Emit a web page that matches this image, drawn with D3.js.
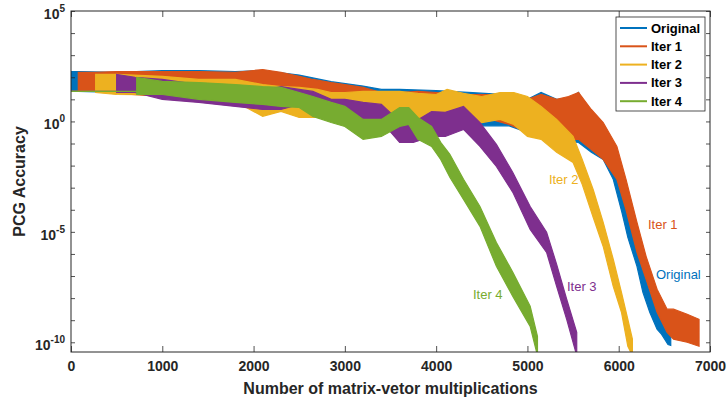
<!DOCTYPE html>
<html>
<head>
<meta charset="utf-8">
<script src="https://d3js.org/d3.v7.min.js"></script>
<style>
  body { margin: 0; background: #fff; }
  svg { font-family: "Liberation Sans", Arial, sans-serif; }
</style>
</head>
<body>
<script>
// each row: [matrix-vector multiplications, log10 of top of noise band, log10 of bottom of noise band]
var seriesNames = ["Original", "Iter 1", "Iter 2", "Iter 3", "Iter 4"];
var colors = ["#0072BD", "#D95319", "#EDB120", "#7E2F8E", "#77AC30"];

var original = [[0,2.26,1.36],[80,2.26,1.36],[500,2.22,1.31],[1000,2.3,1.13],[1400,2.3,1.1],[1800,2.26,1.2],
  [2100,2.3,1.2],[2500,2.1,1.1],[2850,1.8,0.95],[3200,1.6,0.75],[3400,1.45,0.5],[3600,1.45,0.3],[4000,1.4,0.1],
  [4400,1.3,-0.2],[4800,1.2,-0.2],[5000,1.0,-0.5],[5150,1.31,-0.5],[5320,1.0,-0.81],[5450,1.0,-0.9],[5560,1.31,-0.95],
  [5700,-0.05,-1.4],[5830,-0.36,-1.72],[5940,-1.4,-2.62],[6035,-2.76,-4.12],[6100,-3.98,-5.25],[6200,-5.48,-6.56],
  [6265,-6.56,-7.74],[6340,-7.74,-8.64],[6420,-8.37,-9.41],[6470,-8.28,-9.64],[6540,-9.41,-10.1],[6570,-9.64,-10.14]];

var iter1 = [[0,1.36,1.36],[80,1.36,1.36],[80,2.22,1.36],[260,2.22,1.36],[500,2.26,1.27],[1000,2.26,1.13],
  [1400,2.26,1.13],[1800,2.22,1.22],[2100,2.35,1.22],[2300,2.22,1.13],[2500,2.04,1.13],[2650,1.9,1.0],[2850,1.76,1.0],
  [3000,1.67,1.0],[3200,1.54,0.77],[3400,1.31,0.54],[3600,1.31,0.32],[3800,1.36,0.45],[4000,1.31,0.18],[4200,1.22,0.18],
  [4400,1.22,-0.14],[4600,1.22,0.09],[4800,1.13,-0.14],[5000,1.0,-0.5],[5150,1.22,-0.45],[5320,1.0,-0.81],
  [5450,1.13,-0.81],[5560,1.31,-0.81],[5700,0.54,-1.27],[5830,-0.05,-1.72],[5980,-1.13,-2.62],[6080,-2.62,-4.0],
  [6200,-4.57,-5.93],[6300,-6.11,-7.15],[6420,-7.6,-8.64],[6530,-8.5,-9.55],[6600,-8.5,-9.86],[6750,-8.73,-10.0],
  [6880,-8.96,-10.18]];

var iter2 = [[0,1.36,1.36],[270,1.36,1.36],[270,2.13,1.31],[500,2.13,1.22],[1000,2.04,1.2],[1400,1.9,0.9],
  [1800,1.9,0.9],[2100,1.67,0.23],[2300,1.58,0.45],[2500,1.54,0.18],[2700,1.45,0.18],[2850,1.31,0.45],[3000,1.31,0.32],
  [3200,1.36,0.09],[3400,1.36,0.18],[3600,1.36,0.09],[3800,1.27,0.09],[4000,1.22,0.09],[4120,1.45,0.18],[4300,1.27,0.09],
  [4500,1.13,-0.05],[4700,1.31,0.09],[4850,1.31,-0.14],[5000,1.13,-0.68],[5150,0.68,-0.81],[5320,0.09,-1.4],
  [5500,-0.68,-1.86],[5600,-1.72,-2.85],[5720,-3.08,-4.34],[5830,-4.57,-5.66],[5940,-6.24,-7.47],[6030,-7.74,-8.64],
  [6100,-8.96,-10.18],[6150,-9.86,-10.6]];

var iter3 = [[0,1.36,1.36],[500,1.36,1.36],[500,2.13,1.31],[700,2.0,1.31],[1000,1.9,1.0],[1400,1.67,0.86],
  [1800,1.54,0.68],[2100,1.4,0.54],[2300,1.58,0.54],[2500,1.45,0.77],[2650,1.36,0.68],[2850,1.0,0.41],[3000,1.0,0.32],
  [3200,0.86,-0.05],[3400,0.77,0.0],[3600,0.0,-0.95],[3750,-0.05,-0.95],[3950,0.45,-0.68],[4100,0.41,-0.68],
  [4300,0.68,-0.36],[4480,-0.05,-1.13],[4660,-1.04,-2.04],[4840,-2.31,-3.21],[5030,-3.85,-4.89],[5210,-5.02,-5.93],
  [5320,-6.47,-7.47],[5430,-8.05,-8.96],[5540,-9.55,-10.6]];

var iter4 = [[0,1.36,1.36],[720,1.36,1.36],[720,1.99,1.22],[1000,1.81,1.22],[1400,1.76,1.0],[1800,1.67,0.86],
  [2100,1.58,0.77],[2300,1.54,0.68],[2500,1.31,0.63],[2650,1.13,0.23],[2850,0.86,-0.05],[3000,0.68,-0.23],
  [3200,0.09,-0.81],[3400,0.09,-0.68],[3600,0.63,-0.23],[3700,0.63,-0.14],[3800,0.18,-0.81],[3950,-0.23,-1.13],
  [4050,-0.95,-1.72],[4150,-1.49,-2.53],[4300,-2.62,-3.53],[4480,-3.85,-4.75],[4660,-5.48,-6.56],[4840,-6.83,-7.92],
  [5030,-8.37,-9.28],[5110,-9.73,-10.6]];

var xTicks = [0, 1000, 2000, 3000, 4000, 5000, 6000, 7000];
var yDecades = d3.range(-10, 6);       // ticks at every decade
var yLabelled = [-10, -5, 0, 5];       // exponents that carry a label

// in-plot labels: [series index, x, log10 y]
var notes = [[2, 5235, -2.85], [1, 6320, -4.89], [0, 6408, -7.15], [3, 5433, -7.69], [4, 4403, -8.05]];

var width = 727, height = 400;
var mLeft = 71, mRight = 710, mTop = 11, mBottom = 352;
var axisColor = "#262626";

var svg = d3.select("body").append("svg")
  .attr("width", width)
  .attr("height", height);

var x = d3.scaleLinear().domain([0, 7000]).range([mLeft, mRight]);
var y = d3.scaleLog().domain([Math.pow(10, -10.44), 1e5]).range([mBottom, mTop]);

svg.append("clipPath").attr("id", "plotclip")
  .append("rect")
  .attr("x", mLeft).attr("y", mTop)
  .attr("width", mRight - mLeft).attr("height", mBottom - mTop);

var band = d3.area()
  .x(d => x(d[0]))
  .y0(d => y(Math.pow(10, d[2])))
  .y1(d => y(Math.pow(10, d[1])));

var allSeries = [original, iter1, iter2, iter3, iter4];

var plot = svg.append("g").attr("clip-path", "url(#plotclip)");
allSeries.forEach((s, i) => {
  plot.append("path")
    .datum(s)
    .attr("d", band)
    .attr("fill", colors[i])
    .attr("stroke", colors[i])
    .attr("stroke-width", 1.2)
    .attr("stroke-linejoin", "miter");
});

// axes: ticks pointing inwards on all four sides
var gx = svg.append("g").attr("transform", `translate(0,${mBottom})`)
  .call(d3.axisBottom(x).tickValues(xTicks).tickSizeInner(-6).tickSizeOuter(0).tickPadding(9).tickFormat(d3.format("d")));
svg.append("g").attr("transform", `translate(0,${mTop})`)
  .call(d3.axisTop(x).tickValues(xTicks).tickSizeInner(-6).tickSizeOuter(0).tickFormat(""));
svg.append("g").attr("transform", `translate(${mLeft},0)`)
  .call(d3.axisLeft(y).tickValues(yDecades.map(e => Math.pow(10, e))).tickSizeInner(-4).tickSizeOuter(0).tickFormat(""));
svg.append("g").attr("transform", `translate(${mRight},0)`)
  .call(d3.axisRight(y).tickValues(yDecades.map(e => Math.pow(10, e))).tickSizeInner(-4).tickSizeOuter(0).tickFormat(""));

svg.selectAll(".domain").remove();
svg.selectAll(".tick line").attr("stroke", axisColor).attr("stroke-width", 0.8);

gx.selectAll("text")
  .attr("fill", axisColor)
  .attr("font-size", 14)
  .attr("font-weight", "bold")
  .attr("font-family", "Liberation Sans, Arial, sans-serif");

svg.append("rect")
  .attr("x", mLeft).attr("y", mTop)
  .attr("width", mRight - mLeft).attr("height", mBottom - mTop)
  .attr("fill", "none")
  .attr("stroke", axisColor)
  .attr("stroke-width", 1);

// y tick labels as 10^n
var yl = svg.append("g").attr("fill", axisColor).attr("font-weight", "bold");
yLabelled.forEach(e => {
  var t = yl.append("text")
    .attr("x", mLeft - 6)
    .attr("y", y(Math.pow(10, e)) + 8)
    .attr("text-anchor", "end");
  t.append("tspan").attr("font-size", 14).text("10");
  t.append("tspan").attr("font-size", 10).attr("dy", -7).text(e);
});

svg.append("text")
  .attr("x", (mLeft + mRight) / 2)
  .attr("y", 394)
  .attr("text-anchor", "middle")
  .attr("font-size", 16)
  .attr("font-weight", "bold")
  .attr("fill", axisColor)
  .text("Number of matrix-vetor multiplications");

svg.append("text")
  .attr("transform", `translate(25,${(mTop + mBottom) / 2}) rotate(-90)`)
  .attr("text-anchor", "middle")
  .attr("font-size", 16)
  .attr("font-weight", "bold")
  .attr("fill", axisColor)
  .text("PCG Accuracy");

// in-plot series labels
notes.forEach(n => {
  svg.append("text")
    .attr("x", x(n[1]))
    .attr("y", y(Math.pow(10, n[2])))
    .attr("font-size", 13)
    .attr("fill", colors[n[0]])
    .text(seriesNames[n[0]]);
});

// legend
var lg = svg.append("g");
lg.append("rect")
  .attr("x", 616).attr("y", 17)
  .attr("width", 89).attr("height", 94)
  .attr("fill", "#fff")
  .attr("stroke", axisColor)
  .attr("stroke-width", 0.8);
seriesNames.forEach((name, i) => {
  var ry = 28 + i * 18.3;
  lg.append("line")
    .attr("x1", 620).attr("x2", 647)
    .attr("y1", ry).attr("y2", ry)
    .attr("stroke", colors[i])
    .attr("stroke-width", 2);
  lg.append("text")
    .attr("x", 651).attr("y", ry + 4.5)
    .attr("font-size", 13)
    .attr("font-weight", "bold")
    .attr("fill", "#000")
    .text(name);
});
</script>
</body>
</html>
